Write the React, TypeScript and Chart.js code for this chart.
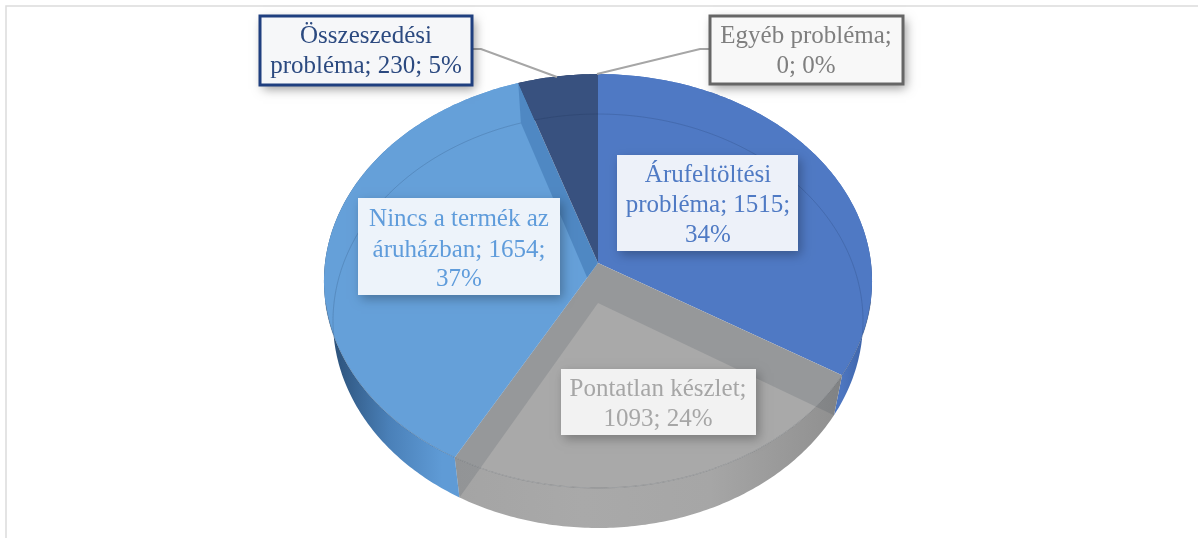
import React, { useEffect, useRef } from "react";
import { Chart, registerables } from "chart.js";

Chart.register(...registerables);

// ---- data ----
const categories = ["Árufeltöltési probléma", "Pontatlan készlet", "Nincs a termék az áruházban", "Összeszedési probléma", "Egyéb probléma"];
const seriesValues = [1515, 1093, 1654, 230, 0];
const labelLines = [
  ["Árufeltöltési", "probléma; 1515;", "34%"],
  ["Pontatlan készlet;", "1093; 24%"],
  ["Nincs a termék az", "áruházban; 1654;", "37%"],
  ["Összeszedési", "probléma; 230; 5%"],
  ["Egyéb probléma;", "0; 0%"],
];

// ---- styles ----
const faceColors = ["#4f79c4", "#a9a9a9", "#65a0d9", "#38517f", "#5a5a5a"];
const wallStops: [number, string][][] = [
  [[0, "#4d76c0"], [0.89, "#4d76c0"], [0.96, "#3f66ad"], [1, "#2b4a86"]],
  [[0, "#a4a4a4"], [0.33, "#a9a9a9"], [0.66, "#a6a6a6"], [1, "#8f8f8f"]],
  [[0, "#274a70"], [0.33, "#4a80b8"], [0.6, "#5f9bd6"], [1, "#5f9bd6"]],
  [[0, "#2c4066"], [1, "#2c4066"]],
  [[0, "#444444"], [1, "#444444"]],
];
const bandColors = ["rgba(0,0,0,0)", "rgba(60,70,85,0.17)", "rgba(20,70,130,0.26)", "rgba(0,0,0,0)", "rgba(0,0,0,0)"];

// ---- layout ----
const FONT = '25px "Liberation Serif"';
const Y_SQUASH = 0.7524;
const PERSPECTIVE = 0.087;
const DEPTH = 40;
const BOTTOM_SHRINK = 0.033;
const boxes = [
  { x: 617, y: 155, w: 181, h: 96, fill: "#edf1f9", text: "#4f7ac4", lineY: [175, 205, 235], cx: 708 },
  { x: 561, y: 369, w: 195, h: 66, fill: "#f2f2f2", text: "#a6a6a6", lineY: [389, 419], cx: 658 },
  { x: 358, y: 198, w: 202, h: 97, fill: "#edf3fa", text: "#5f9cdb", lineY: [219, 250, 279], cx: 459 },
  { x: 260, y: 16, w: 212, h: 69, fill: "#f6f7f9", text: "#2c4a80", lineY: [36, 66], cx: 366, border: "#1f3f7f" },
  { x: 710, y: 16, w: 193, h: 68, fill: "#f8f8f8", text: "#7f7f7f", lineY: [36, 66], cx: 806, border: "#666666" },
];
const leaders = [
  [[472, 49], [481, 49], [557, 77]],
  [[710, 49], [700, 49], [597, 74]],
];

const pie3d = {
  id: "pie3d",
  beforeDatasetsDraw(chart: any) {
    const ctx: CanvasRenderingContext2D = chart.ctx;
    const arcs = chart.getDatasetMeta(0).data;
    const { x: cx, y: cy, outerRadius: R } = arcs[0];
    const P = (t: number, r = 1, d = 0): [number, number] => {
      const ux = Math.cos(t) * r;
      const uy = Math.sin(t) * r;
      const w = 1 - PERSPECTIVE * uy;
      const s = 1 - (BOTTOM_SHRINK * d) / DEPTH;
      return [cx + (R * s * ux) / w, cy + (R * Y_SQUASH * uy) / w + d];
    };
    const rim = (a: number, b: number, d = 0) => {
      const pts: [number, number][] = [];
      const n = Math.max(2, Math.ceil(Math.abs(b - a) * 80));
      for (let i = 0; i <= n; i++) pts.push(P(a + ((b - a) * i) / n, 1, d));
      return pts;
    };
    const path = (pts: [number, number][]) => {
      ctx.beginPath();
      pts.forEach((p, i) => (i ? ctx.lineTo(p[0], p[1]) : ctx.moveTo(p[0], p[1])));
      ctx.closePath();
    };
    const slicePts = (a: number, b: number, d = 0) => [P(a, 0, d), ...rim(a, b, d)];
    const wallPts = (a: number, b: number) => [...rim(a, b, 0), ...rim(a, b, DEPTH).reverse()];
    const bandQuad = (t: number) => [P(t, 0), P(t), P(t, 1, DEPTH), P(t, 0, DEPTH)];

    // frame
    ctx.save();
    ctx.strokeStyle = "#dcdcdc";
    ctx.lineWidth = 1.5;
    ctx.beginPath();
    ctx.moveTo(6, 538);
    ctx.lineTo(6, 6);
    ctx.lineTo(1198, 6);
    ctx.stroke();
    ctx.restore();

    // outer walls
    arcs.forEach((arc: any, i: number) => {
      const { startAngle: a, endAngle: b } = arc;
      if (b - a < 1e-6) return;
      const pts = wallPts(a, b);
      const xs = pts.map((p) => p[0]);
      const g = ctx.createLinearGradient(Math.min(...xs), 0, Math.max(...xs), 0);
      wallStops[i].forEach(([o, c]) => g.addColorStop(o, c));
      ctx.fillStyle = g;
      path(pts);
      ctx.fill();
      ctx.save();
      path(pts);
      ctx.clip();
      [a, b].forEach((t) => {
        ctx.fillStyle = bandColors[i];
        path(bandQuad(t));
        ctx.fill();
      });
      ctx.restore();
    });

    // top faces with the see-through inner walls
    arcs.forEach((arc: any, i: number) => {
      const { startAngle: a, endAngle: b } = arc;
      if (b - a < 1e-6) return;
      ctx.fillStyle = arc.options.backgroundColor;
      path(slicePts(a, b));
      ctx.fill();
      ctx.save();
      path(slicePts(a, b));
      ctx.clip();
      [a, b].forEach((t) => {
        ctx.fillStyle = bandColors[i];
        path(bandQuad(t));
        ctx.fill();
      });
      // bottom disc outline seen through the top
      ctx.strokeStyle = "rgba(20,40,70,0.16)";
      ctx.lineWidth = 1;
      ctx.beginPath();
      rim(a, b, DEPTH).forEach((p, k) => (k ? ctx.lineTo(p[0], p[1]) : ctx.moveTo(p[0], p[1])));
      ctx.stroke();
      ctx.restore();
      // front rim line
      ctx.strokeStyle = "rgba(40,50,60,0.22)";
      ctx.lineWidth = 1;
      ctx.beginPath();
      rim(a, b).forEach((p) => {
        if (p[1] < cy + 40) {
          ctx.moveTo(p[0], p[1]);
        } else {
          ctx.lineTo(p[0], p[1]);
        }
      });
      ctx.stroke();
    });

    // leader lines
    ctx.strokeStyle = "#a6a6a6";
    ctx.lineWidth = 2;
    leaders.forEach((l) => {
      ctx.beginPath();
      l.forEach((p, k) => (k ? ctx.lineTo(p[0], p[1]) : ctx.moveTo(p[0], p[1])));
      ctx.stroke();
    });

    // data labels
    boxes.forEach((box, i) => {
      ctx.save();
      ctx.shadowColor = box.border ? "rgba(0,0,0,0.4)" : "rgba(0,0,0,0.28)";
      ctx.shadowBlur = 10;
      ctx.shadowOffsetX = 3;
      ctx.shadowOffsetY = 4;
      ctx.fillStyle = box.fill;
      ctx.fillRect(box.x, box.y, box.w, box.h);
      ctx.restore();
      if (box.border) {
        ctx.strokeStyle = box.border;
        ctx.lineWidth = 3;
        ctx.strokeRect(box.x, box.y, box.w, box.h);
      }
      ctx.fillStyle = box.text;
      ctx.font = FONT;
      ctx.textAlign = "center";
      ctx.textBaseline = "middle";
      labelLines[i].forEach((line, k) => ctx.fillText(line, box.cx, box.lineY[k]));
    });
    return false;
  },
};

export default function App() {
  const ref = useRef<HTMLCanvasElement>(null);
  useEffect(() => {
    const chart = new Chart(ref.current!, {
      type: "pie",
      data: {
        labels: categories,
        datasets: [{ data: seriesValues, backgroundColor: faceColors, borderWidth: 0 }],
      },
      options: {
        responsive: false,
        animation: false,
        radius: 273,
        layout: { padding: { right: 2, bottom: 12 } },
        plugins: { legend: { display: false }, tooltip: { enabled: false } },
      } as any,
      plugins: [pie3d as any],
    });
    return () => chart.destroy();
  }, []);
  return (
    <div style={{ position: "absolute", left: 0, top: 0, width: 1198, height: 538, background: "#fff" }}>
      <canvas ref={ref} width={1198} height={538} style={{ display: "block" }} />
    </div>
  );
}
